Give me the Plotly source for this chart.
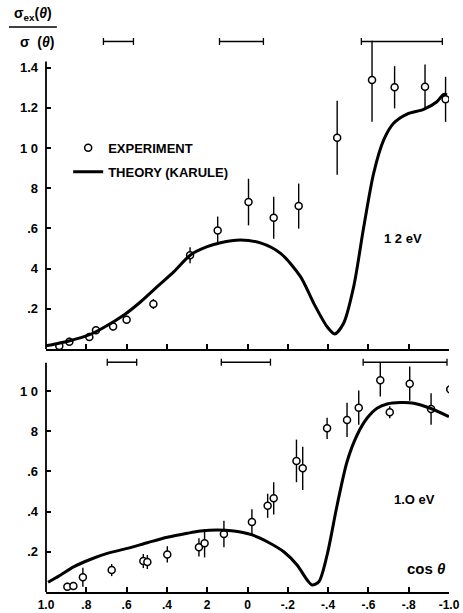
import plotly.graph_objects as go

# ---------------- data ----------------
# x tick labels (cos theta)
x_tickvals = [1.0, 0.8, 0.6, 0.4, 0.2, 0.0, -0.2, -0.4, -0.6, -0.8, -1.0]
x_ticktext = ["1.0", ".8", ".6", ".4", "2", "0", "-.2", "-.4", "-.6", "-.8", "-1.0"]

top_y_tickvals = [0.2, 0.4, 0.6, 0.8, 1.0, 1.2, 1.4]
top_y_ticktext = [".2", "4", ".6", "8", "1 0", "1.2", "1.4"]
bot_y_tickvals = [0.2, 0.4, 0.6, 0.8, 1.0]
bot_y_ticktext = [".2", ".4", ".6", "8", "1 0"]

# 12 eV theory (Karule)
th12_cos = [1.0, 0.977, 0.93, 0.886, 0.787, 0.72, 0.613, 0.53, 0.448, 0.365, 0.283, 0.2, 0.134,
            0.035, -0.064, -0.164, -0.263, -0.329, -0.395, -0.433, -0.477, -0.527, -0.577,
            -0.626, -0.676, -0.725, -0.792, -0.874, -0.94, -0.973, -0.99]
th12_val = [0.016, 0.02, 0.03, 0.04, 0.07, 0.103, 0.169, 0.235, 0.31, 0.385, 0.468, 0.509, 0.529,
            0.542, 0.528, 0.476, 0.36, 0.227, 0.111, 0.075, 0.128, 0.31, 0.608,
            0.874, 1.04, 1.123, 1.169, 1.192, 1.23, 1.267, 1.264]

# 12 eV experiment
ex12_cos = [0.934, 0.884, 0.785, 0.752, 0.667, 0.60, 0.467, 0.285, 0.148, -0.005, -0.13, -0.254,
            -0.445, -0.618, -0.730, -0.881, -0.983]
ex12_val = [0.015, 0.036, 0.06, 0.093, 0.112, 0.146, 0.224, 0.466, 0.589, 0.731, 0.653, 0.711,
            1.051, 1.338, 1.302, 1.305, 1.242]
ex12_err_up = [0.01, 0.02, 0.02, 0.015, 0.02, 0.02, 0.025, 0.04, 0.07, 0.116, 0.105, 0.112,
               0.184, 0.195, 0.105, 0.11, 0.112]
ex12_err_dn = [0.01, 0.015, 0.02, 0.015, 0.02, 0.02, 0.025, 0.04, 0.07, 0.116, 0.105, 0.112,
               0.184, 0.208, 0.105, 0.11, 0.112]

# 1.0 eV theory
th10_cos = [0.99, 0.977, 0.927, 0.861, 0.778, 0.696, 0.596, 0.497, 0.398, 0.299, 0.233, 0.15, 0.068,
            -0.023, -0.098, -0.18, -0.246, -0.296, -0.321, -0.354, -0.395, -0.445, -0.494,
            -0.544, -0.593, -0.643, -0.693, -0.759, -0.825, -0.907, -1.0]
th10_val = [0.048, 0.056, 0.085, 0.126, 0.163, 0.192, 0.217, 0.245, 0.272, 0.292, 0.303, 0.308, 0.303,
            0.284, 0.25, 0.2, 0.134, 0.06, 0.035, 0.051, 0.184, 0.433, 0.648,
            0.781, 0.864, 0.914, 0.935, 0.942, 0.939, 0.914, 0.872]

# 1.0 eV experiment
ex10_cos = [0.894, 0.864, 0.817, 0.674, 0.517, 0.497, 0.398, 0.241, 0.213, 0.117, -0.022, -0.10,
            -0.13, -0.243, -0.274, -0.395, -0.494, -0.552, -0.659, -0.706, -0.805, -0.911, -1.006]
ex10_val = [0.026, 0.03, 0.073, 0.109, 0.154, 0.149, 0.187, 0.222, 0.242, 0.289, 0.348, 0.429,
            0.466, 0.652, 0.615, 0.814, 0.856, 0.917, 1.053, 0.894, 1.036, 0.910, 1.008]
ex10_err_up = [0.02, 0.02, 0.047, 0.03, 0.035, 0.035, 0.04, 0.045, 0.07, 0.066, 0.063, 0.06,
               0.08, 0.106, 0.108, 0.053, 0.085, 0.085, 0.09, 0.03, 0.085, 0.078, 0.08]
ex10_err_dn = [0.02, 0.02, 0.047, 0.03, 0.035, 0.035, 0.04, 0.045, 0.07, 0.066, 0.063, 0.06,
               0.08, 0.106, 0.108, 0.053, 0.085, 0.085, 0.081, 0.03, 0.085, 0.078, 0.08]

# angular resolution bars (cos theta intervals)
res12_lo = [0.715, 0.139, -0.565]
res12_hi = [0.566, -0.079, -0.967]
res12_level = 1.53
res10_lo = [0.696, 0.13, -0.574]
res10_hi = [0.55, -0.114, -0.99]
res10_level = 1.143

# ---------------- figure ----------------
FONT = "Liberation Sans, Arial, sans-serif"
WEIGHT = "bold"
LW_AX = 1.8


def res_xy(lo, hi, level):
    xs, ys = [], []
    for a, b in zip(lo, hi):
        xs += [a, b, None]
        ys += [level, level, None]
    return xs, ys


fig = go.Figure()

# top panel (12 eV) -> x2 / y2
fig.add_trace(go.Scatter(
    x=ex12_cos, y=ex12_val, mode="markers", name="EXPERIMENT",
    xaxis="x2", yaxis="y2", legendgroup="a",
    marker=dict(symbol="circle", size=7, color="white", line=dict(color="black", width=1.5)),
    error_y=dict(type="data", symmetric=False, array=ex12_err_up, arrayminus=ex12_err_dn,
                 color="black", thickness=1.4, width=0),
))
fig.add_trace(go.Scatter(
    x=th12_cos, y=th12_val, mode="lines", name="THEORY (KARULE)",
    xaxis="x2", yaxis="y2", legendgroup="b",
    line=dict(color="black", width=3, shape="spline", smoothing=0.8),
))
rx, ry = res_xy(res12_lo, res12_hi, res12_level)
fig.add_trace(go.Scatter(
    x=rx, y=ry, mode="lines+markers", xaxis="x2", yaxis="y2", showlegend=False,
    line=dict(color="black", width=1.5),
    marker=dict(symbol="line-ns-open", size=5, line=dict(color="black", width=1.3)),
))

# bottom panel (1.0 eV) -> x / y
fig.add_trace(go.Scatter(
    x=ex10_cos, y=ex10_val, mode="markers", showlegend=False,
    marker=dict(symbol="circle", size=7, color="white", line=dict(color="black", width=1.5)),
    error_y=dict(type="data", symmetric=False, array=ex10_err_up, arrayminus=ex10_err_dn,
                 color="black", thickness=1.4, width=0),
))
fig.add_trace(go.Scatter(
    x=th10_cos, y=th10_val, mode="lines", showlegend=False,
    line=dict(color="black", width=3, shape="spline", smoothing=0.8),
))
rx, ry = res_xy(res10_lo, res10_hi, res10_level)
fig.add_trace(go.Scatter(
    x=rx, y=ry, mode="lines+markers", showlegend=False,
    line=dict(color="black", width=1.5),
    marker=dict(symbol="line-ns-open", size=5, line=dict(color="black", width=1.3)),
))

axis_common = dict(showgrid=False, zeroline=False, ticks="inside", ticklen=5, tickwidth=1.5,
                   tickcolor="black", linecolor="black", linewidth=LW_AX, automargin=False)
tick_font = dict(family=FONT, size=13, color="black", weight=WEIGHT)

fig.update_layout(
    width=463, height=613,
    margin=dict(l=46, r=14, t=30, b=21),
    paper_bgcolor="white", plot_bgcolor="white",
    font=dict(family=FONT, color="black"),
    xaxis=dict(domain=[0, 1], range=[1.0, -1.0], anchor="y", showline=True,
               tickvals=x_tickvals, ticktext=x_ticktext, ticklabelstandoff=1,
               tickfont=dict(family=FONT, size=12, color="black", weight=WEIGHT), **axis_common),
    yaxis=dict(domain=[0, 0.4164], range=[0, 1.164], anchor="x", showline=False,
               tickvals=bot_y_tickvals, ticktext=bot_y_ticktext, ticklabelstandoff=7,
               tickfont=tick_font, **axis_common),
    xaxis2=dict(domain=[0, 1], range=[1.0, -1.0], anchor="y2", showline=True,
                tickvals=x_tickvals, showticklabels=False, **axis_common),
    yaxis2=dict(domain=[0.4324, 1], range=[0, 1.587], anchor="x2", showline=False,
                tickvals=top_y_tickvals, ticktext=top_y_ticktext, ticklabelstandoff=7,
                tickfont=tick_font, **axis_common),
    legend=dict(x=0.055, y=0.817, xanchor="left", yanchor="top", bgcolor="rgba(0,0,0,0)",
                font=dict(family=FONT, size=13, color="black", weight=WEIGHT),
                traceorder="grouped", tracegroupgap=4),
    showlegend=True,
)

# left axis lines (stop below the resolution bars)
fig.add_shape(type="line", xref="paper", yref="y2", x0=0, x1=0, y0=0, y1=1.43,
              line=dict(color="black", width=LW_AX))
fig.add_shape(type="line", xref="paper", yref="y", x0=0, x1=0, y0=0, y1=1.14,
              line=dict(color="black", width=LW_AX))

# y-axis title as a fraction
fig.add_annotation(xref="paper", yref="paper", x=-0.032, y=1.028, showarrow=False,
                   xanchor="center", yanchor="middle",
                   text="σ<sub>ex</sub>(<i>θ</i>)",
                   font=dict(family=FONT, size=14, color="black", weight=WEIGHT))
fig.add_annotation(xref="paper", yref="paper", x=-0.022, y=0.979, showarrow=False,
                   xanchor="center", yanchor="middle",
                   text="σ  (<i>θ</i>)", font=dict(family=FONT, size=14, color="black", weight=WEIGHT))
fig.add_shape(type="line", xref="paper", yref="paper", x0=-0.092, x1=0.027, y0=1.0053, y1=1.0053,
              line=dict(color="black", width=1.5))

# panel labels
fig.add_annotation(xref="x2", yref="y2", x=-0.773, y=0.552, showarrow=False,
                   text="1 2 eV", font=dict(family=FONT, size=13, color="black", weight=WEIGHT))
fig.add_annotation(xref="x", yref="y", x=-0.828, y=0.458, showarrow=False,
                   text="1.O eV", font=dict(family=FONT, size=13, color="black", weight=WEIGHT))
fig.add_annotation(xref="x", yref="y", x=-0.887, y=0.119, showarrow=False,
                   text="cos <i>θ</i>", font=dict(family=FONT, size=15, color="black", weight=WEIGHT))

fig.write_html("out.html")
